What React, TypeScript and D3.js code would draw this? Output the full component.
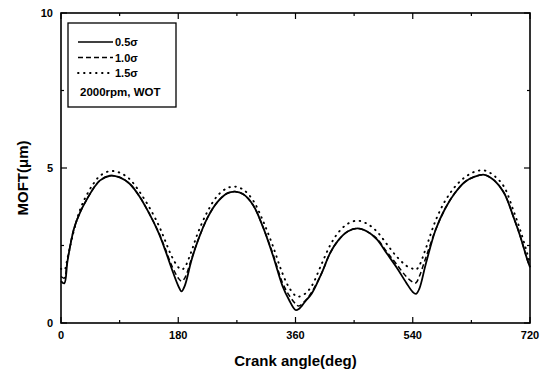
import React from "react";
import * as d3 from "d3";

const angles = [0,5,10,20,30,40,50,60,75,90,105,120,135,150,160,170,180,185,190,200,210,225,240,255,267,280,295,310,325,340,350,360,365,375,385,400,413,425,440,455,470,485,500,515,530,540,545,550,560,575,590,605,620,635,650,665,680,695,705,715,720];

const s05 = [1.35,1.28,2.0,3.05,3.6,4.0,4.35,4.6,4.75,4.7,
4.5,4.1,3.55,2.9,2.35,1.75,1.2,1.02,1.2,2.0,
2.65,3.4,3.9,4.18,4.24,4.15,3.8,3.1,2.2,1.2,
0.75,0.42,0.45,0.7,0.95,1.6,2.25,2.65,2.95,3.05,
2.95,2.7,2.25,1.8,1.3,1.0,0.94,1.1,1.9,3.0,
3.7,4.2,4.55,4.72,4.78,4.6,4.2,3.4,2.8,2.1,
1.8];

const s10 = [1.5,1.45,2.05,3.05,3.6,4.0,4.35,4.6,4.75,4.7,
4.5,4.1,3.55,2.92,2.4,1.85,1.45,1.35,1.45,2.05,
2.65,3.4,3.9,4.18,4.24,4.15,3.8,3.1,2.25,1.3,
0.9,0.62,0.55,0.72,1.0,1.6,2.25,2.65,2.95,3.05,
2.95,2.72,2.3,1.9,1.5,1.32,1.3,1.5,2.1,3.0,
3.7,4.2,4.55,4.72,4.78,4.6,4.2,3.4,2.8,2.1,
1.8];

const s15 = [1.75,1.7,2.1,3.0,3.7,4.15,4.5,4.75,4.9,4.85,
4.65,4.25,3.75,3.15,2.65,2.15,1.8,1.72,1.8,2.3,
2.9,3.6,4.1,4.35,4.4,4.3,3.95,3.3,2.5,1.6,
1.15,0.88,0.85,0.95,1.2,1.9,2.5,2.9,3.2,3.3,
3.2,2.95,2.55,2.15,1.85,1.75,1.72,1.85,2.4,3.3,
3.95,4.4,4.7,4.88,4.92,4.75,4.4,3.6,3.0,2.3,
1.95];

const seriesNames = ["0.5σ", "1.0σ", "1.5σ"];
const seriesDash = ["", "5 3", "0.6 5.4"];
const seriesValues = [s05, s10, s15];
const xTicks = [0, 180, 360, 540, 720];
const xMinor = [90, 270, 450, 630];
const yTicks = [0, 5, 10];
const yMinor = [2.5, 7.5];
const legendNote = "2000rpm, WOT";

const L = 61, R = 530, T = 13, B = 323;

export default function App() {
  const x = d3.scaleLinear().domain([0, 720]).range([L, R]);
  const y = d3.scaleLinear().domain([0, 10]).range([B, T]);
  const line = d3
    .line<number>()
    .x((_, i) => x(angles[i]))
    .y((d) => y(d))
    .curve(d3.curveCatmullRom.alpha(0.5));
  const font = "'Liberation Sans', Arial, sans-serif";
  return (
    <svg
      width={552}
      height={375}
      style={{ position: "absolute", left: 0, top: 0, background: "#fff" }}
      fontFamily={font}
    >
      <rect x={0} y={0} width={552} height={375} fill="#fff" />
      {seriesValues.map((vals, k) => (
        <path
          key={k}
          d={line(vals) || ""}
          fill="none"
          stroke="#000"
          strokeWidth={k === 0 ? 1.8 : k === 2 ? 1.9 : 1.5}
          strokeDasharray={seriesDash[k] || undefined}
          strokeLinecap={k === 2 ? "round" : "butt"}
        />
      ))}
      <rect x={L} y={T} width={R - L} height={B - T} fill="none" stroke="#000" strokeWidth={1.6} />
      {xTicks.map((t) => (
        <g key={"xt" + t}>
          <line x1={x(t)} x2={x(t)} y1={B} y2={B - 6} stroke="#000" strokeWidth={1.2} />
          <line x1={x(t)} x2={x(t)} y1={T} y2={T + 6} stroke="#000" strokeWidth={1.2} />
          <text x={x(t)} y={339} textAnchor="middle" fontSize={11} fontWeight="bold">{t}</text>
        </g>
      ))}
      {xMinor.map((t) => (
        <g key={"xm" + t}>
          <line x1={x(t)} x2={x(t)} y1={B} y2={B - 3} stroke="#000" strokeWidth={1.2} />
          <line x1={x(t)} x2={x(t)} y1={T} y2={T + 3} stroke="#000" strokeWidth={1.2} />
        </g>
      ))}
      {yTicks.map((t) => (
        <g key={"yt" + t}>
          <line x1={L} x2={L + 6} y1={y(t)} y2={y(t)} stroke="#000" strokeWidth={1.2} />
          <line x1={R} x2={R - 6} y1={y(t)} y2={y(t)} stroke="#000" strokeWidth={1.2} />
          <text x={53} y={y(t) + 4} textAnchor="end" fontSize={11} fontWeight="bold">{t}</text>
        </g>
      ))}
      {yMinor.map((t) => (
        <g key={"ym" + t}>
          <line x1={L} x2={L + 3} y1={y(t)} y2={y(t)} stroke="#000" strokeWidth={1.2} />
          <line x1={R} x2={R - 3} y1={y(t)} y2={y(t)} stroke="#000" strokeWidth={1.2} />
        </g>
      ))}
      <text x={(L + R) / 2} y={366} textAnchor="middle" fontSize={15} fontWeight="bold">Crank angle(deg)</text>
      <text transform="translate(28,178) rotate(-90)" textAnchor="middle" fontSize={15} fontWeight="bold">MOFT(μm)</text>
      <rect x={68} y={23} width={108} height={84} fill="#fff" stroke="#000" strokeWidth={1.3} />
      {seriesNames.map((n, k) => (
        <g key={"lg" + k}>
          <line x1={78} x2={113} y1={42 + k * 15.5} y2={42 + k * 15.5} stroke="#000" strokeWidth={k === 0 ? 1.4 : k === 2 ? 1.8 : 1.4}
            strokeDasharray={seriesDash[k] || undefined} strokeLinecap={k === 2 ? "round" : "butt"} />
          <text x={115} y={42 + k * 15.5 + 4} fontSize={11} fontWeight="bold">{n}</text>
        </g>
      ))}
      <text x={80} y={96} fontSize={11.5} fontWeight="bold">{legendNote}</text>
    </svg>
  );
}
